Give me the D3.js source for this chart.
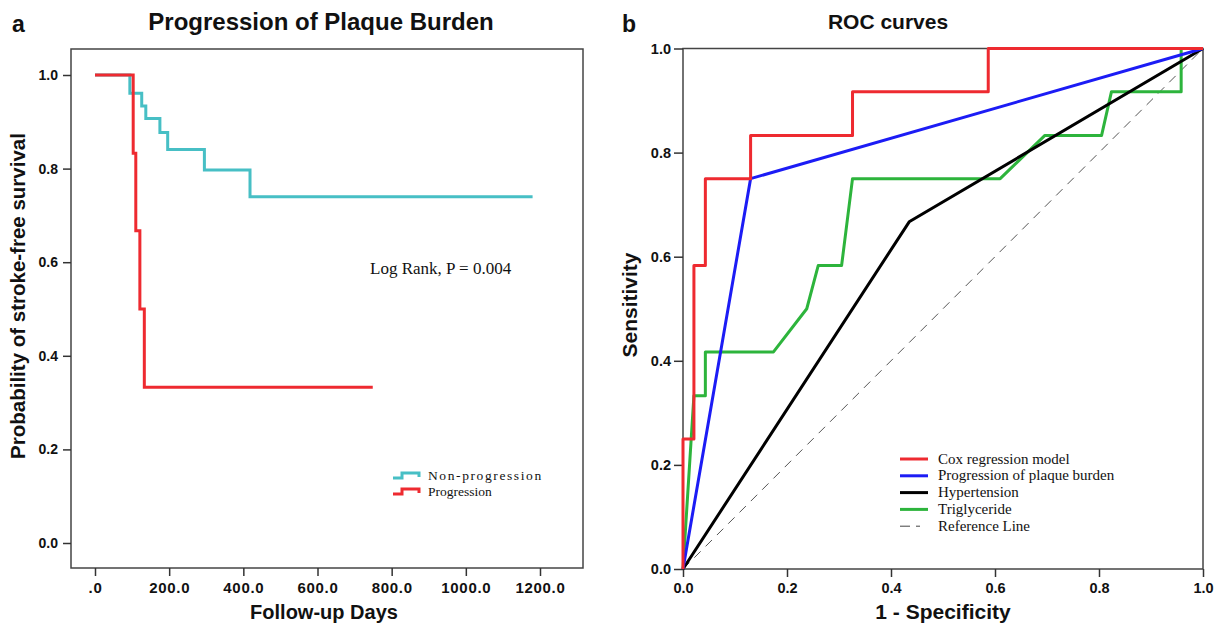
<!DOCTYPE html>
<html>
<head>
<meta charset="utf-8">
<script src="https://cdn.jsdelivr.net/npm/d3@7"></script>
<style>
	body { margin: 0; background: #fff; }
	svg { display: block; }
	.tick text { font-family: "Liberation Sans", Arial, sans-serif; font-weight: bold; fill: #111; }
	.tick line { stroke: #333; stroke-width: 1.5; }
	.bold { font-family: "Liberation Sans", Arial, sans-serif; font-weight: bold; fill: #111; }
	.serif { font-family: "Liberation Serif", "Times New Roman", serif; fill: #111; }
</style>
</head>
<body>
<svg id="chart" width="1215" height="626"></svg>
<script>
// panel a: Kaplan-Meier
const dayTicks = [0, 200, 400, 600, 800, 1000, 1200];
const dayTickLabels = ['.0', '200.0', '400.0', '600.0', '800.0', '1000.0', '1200.0'];
const survTicks = [0, 0.2, 0.4, 0.6, 0.8, 1.0];
const nonProgDays = [0, 94, 126, 137, 175, 196, 295, 418, 1180];
const nonProgSurv = [1, 0.961, 0.934, 0.907, 0.877, 0.841, 0.797, 0.740, 0.740];
const progDays = [0, 103, 110, 121, 133, 749];
const progSurv = [1, 0.833, 0.667, 0.5, 0.333, 0.333];
const kmNames = ['Non-progression', 'Progression'];

// panel b: ROC
const rocTicks = [0, 0.2, 0.4, 0.6, 0.8, 1.0];
const coxFpr = [0, 0, 0.021, 0.021, 0.043, 0.043, 0.13, 0.13, 0.326, 0.326, 0.587, 0.587, 1];
const coxTpr = [0, 0.25, 0.25, 0.583, 0.583, 0.75, 0.75, 0.833, 0.833, 0.917, 0.917, 1, 1];
const plaqueFpr = [0, 0.13, 1];
const plaqueTpr = [0, 0.75, 1];
const htnFpr = [0, 0.435, 1];
const htnTpr = [0, 0.667, 1];
const trigFpr = [0, 0.021, 0.043, 0.043, 0.174, 0.238, 0.26, 0.305, 0.326, 0.61, 0.696, 0.805, 0.824, 0.958, 0.958, 1];
const trigTpr = [0, 0.333, 0.333, 0.417, 0.417, 0.5, 0.583, 0.583, 0.75, 0.75, 0.833, 0.833, 0.917, 0.917, 1, 1];
const refFpr = [0, 1];
const refTpr = [0, 1];
const rocNames = ['Cox regression model', 'Progression of plaque burden', 'Hypertension', 'Triglyceride', 'Reference Line'];

const cyan = '#47bfc5';
const red = '#ee2a30';
const blue = '#1c1cf5';
const black = '#000';
const green = '#2db43c';

const svg = d3.select('#chart');

function zip(xs, ys) {
	return xs.map((x, i) => [x, ys[i]]);
}

function drawFrame(g, x0, y0, x1, y1) {
	g.append('rect')
		.attr('x', x0)
		.attr('y', y0)
		.attr('width', x1 - x0)
		.attr('height', y1 - y0)
		.attr('fill', 'none')
		.attr('stroke', '#444')
		.attr('stroke-width', 1.5);
}

function drawPanelA() {
	const g = svg.append('g');
	const x = d3.scaleLinear().domain([0, 1200]).range([95, 540]);
	const y = d3.scaleLinear().domain([0, 1]).range([543, 75]);
	const frame = [71, 49, 583, 568];

	drawFrame(g, ...frame);

	g.append('g')
		.attr('transform', 'translate(0,' + frame[3] + ')')
		.call(d3.axisBottom(x).tickValues(dayTicks).tickSize(8).tickSizeOuter(0).tickPadding(6)
			.tickFormat((d, i) => dayTickLabels[i]))
		.call(a => a.select('.domain').remove())
		.call(a => a.selectAll('.tick text').style('font-size', '15px').style('letter-spacing', '0.7px'));

	g.append('g')
		.attr('transform', 'translate(' + frame[0] + ',0)')
		.call(d3.axisLeft(y).tickValues(survTicks).tickSize(8).tickSizeOuter(0).tickPadding(5)
			.tickFormat(d3.format('.1f')))
		.call(a => a.select('.domain').remove())
		.call(a => a.selectAll('.tick text').style('font-size', '14px'));

	let line = d3.line()
		.x(d => x(d[0]))
		.y(d => y(d[1]))
		.curve(d3.curveStepAfter);

	g.append('path')
		.attr('d', line(zip(nonProgDays, nonProgSurv)))
		.attr('fill', 'none')
		.attr('stroke', cyan)
		.attr('stroke-width', 3);

	g.append('path')
		.attr('d', line(zip(progDays, progSurv)))
		.attr('fill', 'none')
		.attr('stroke', red)
		.attr('stroke-width', 3);

	// titles
	g.append('text').attr('class', 'bold').attr('x', 12).attr('y', 32)
		.style('font-size', '23px').text('a');
	g.append('text').attr('class', 'bold').attr('x', 321).attr('y', 30)
		.attr('text-anchor', 'middle').style('font-size', '24px')
		.text('Progression of Plaque Burden');
	g.append('text').attr('class', 'bold').attr('x', 324).attr('y', 619)
		.attr('text-anchor', 'middle').style('font-size', '20px')
		.text('Follow-up Days');
	g.append('text').attr('class', 'bold')
		.attr('transform', 'translate(25,296) rotate(-90)')
		.attr('text-anchor', 'middle').style('font-size', '20.5px')
		.text('Probability of stroke-free survival');

	g.append('text').attr('class', 'serif').attr('x', 370).attr('y', 274)
		.style('font-size', '17px').text('Log Rank, P = 0.004');

	// legend with step icons
	let colors = [cyan, red];
	kmNames.forEach(function(name, i) {
		let ly = 480 + i * 16;
		let icon = [[393, ly - 2], [402, ly - 2], [402, ly - 7], [419, ly - 7], [419, ly - 3]];
		g.append('path')
			.attr('d', d3.line()(icon))
			.attr('fill', 'none')
			.attr('stroke', colors[i])
			.attr('stroke-width', 3);
		g.append('text').attr('class', 'serif').attr('x', 428).attr('y', ly)
			.style('font-size', '13.5px')
			.style('letter-spacing', i == 0 ? '1.6px' : '0px')
			.text(name);
	});
}

function drawPanelB() {
	const g = svg.append('g');
	const x = d3.scaleLinear().domain([0, 1]).range([683, 1203]);
	const y = d3.scaleLinear().domain([0, 1]).range([569, 48.5]);

	drawFrame(g, 683, 48.5, 1203, 569);

	g.append('g')
		.attr('transform', 'translate(0,569)')
		.call(d3.axisBottom(x).tickValues(rocTicks).tickSize(8).tickSizeOuter(0).tickPadding(6)
			.tickFormat(d3.format('.1f')))
		.call(a => a.select('.domain').remove())
		.call(a => a.selectAll('.tick text').style('font-size', '14.5px'));

	g.append('g')
		.attr('transform', 'translate(683,0)')
		.call(d3.axisLeft(y).tickValues(rocTicks).tickSize(9).tickSizeOuter(0).tickPadding(3)
			.tickFormat(d3.format('.1f')))
		.call(a => a.select('.domain').remove())
		.call(a => a.selectAll('.tick text').style('font-size', '14.5px'));

	let line = d3.line()
		.x(d => x(d[0]))
		.y(d => y(d[1]));

	g.append('path')
		.attr('d', line(zip(refFpr, refTpr)))
		.attr('fill', 'none')
		.attr('stroke', '#555')
		.attr('stroke-width', 1)
		.attr('stroke-dasharray', '9,7');

	let curves = [
		{ fpr: trigFpr, tpr: trigTpr, color: green },
		{ fpr: htnFpr, tpr: htnTpr, color: black },
		{ fpr: plaqueFpr, tpr: plaqueTpr, color: blue },
		{ fpr: coxFpr, tpr: coxTpr, color: red }
	];

	curves.forEach(function(c) {
		g.append('path')
			.attr('d', line(zip(c.fpr, c.tpr)))
			.attr('fill', 'none')
			.attr('stroke', c.color)
			.attr('stroke-width', 3)
			.attr('stroke-linejoin', 'round');
	});

	g.append('text').attr('class', 'bold').attr('x', 622).attr('y', 32)
		.style('font-size', '23px').text('b');
	g.append('text').attr('class', 'bold').attr('x', 888).attr('y', 29)
		.attr('text-anchor', 'middle').style('font-size', '21px')
		.text('ROC curves');
	g.append('text').attr('class', 'bold').attr('x', 943).attr('y', 619)
		.attr('text-anchor', 'middle').style('font-size', '21px')
		.text('1 - Specificity');
	g.append('text').attr('class', 'bold')
		.attr('transform', 'translate(637,305) rotate(-90)')
		.attr('text-anchor', 'middle').style('font-size', '21px')
		.text('Sensitivity');

	// legend
	let legendColors = [red, blue, black, green, '#444'];
	rocNames.forEach(function(name, i) {
		let ly = 459 + i * 16.8;
		if (i < 4) {
			g.append('line')
				.attr('x1', 900).attr('x2', 928)
				.attr('y1', ly).attr('y2', ly)
				.attr('stroke', legendColors[i])
				.attr('stroke-width', 3);
		} else {
			g.append('line')
				.attr('x1', 900).attr('x2', 928)
				.attr('y1', ly).attr('y2', ly)
				.attr('stroke', legendColors[i])
				.attr('stroke-width', 1)
				.attr('stroke-dasharray', '10,6,4,20');
		}
		g.append('text').attr('class', 'serif').attr('x', 938).attr('y', ly + 4.5)
			.style('font-size', '15px')
			.text(name);
	});
}

drawPanelA();
drawPanelB();
</script>
</body>
</html>
